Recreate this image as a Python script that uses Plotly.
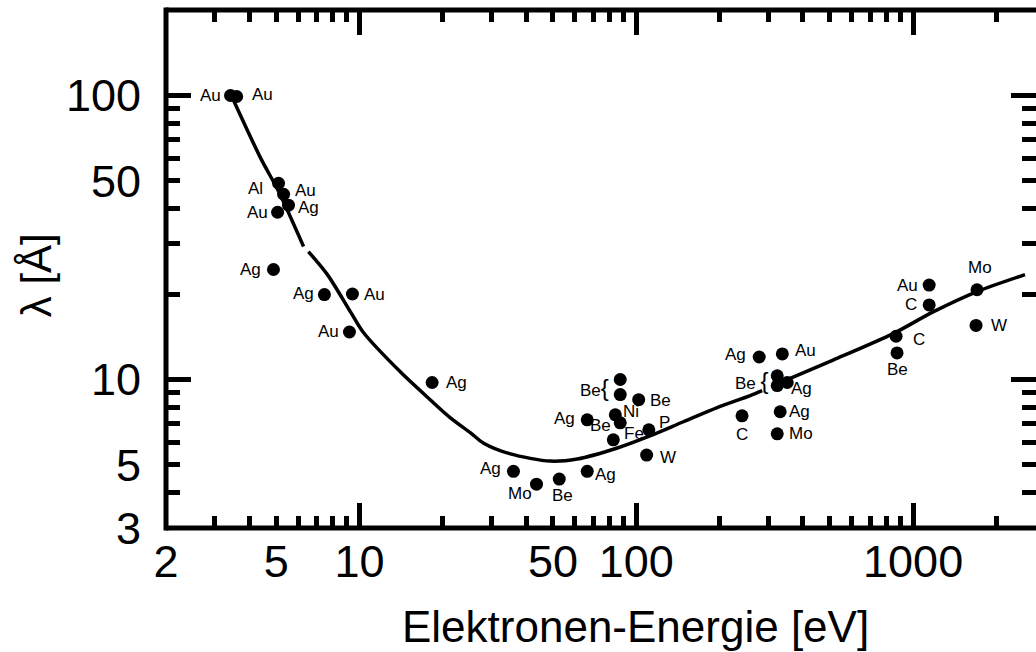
import numpy as np
import plotly.graph_objects as go

# Universal curve of the electron attenuation length (None = break in the drawn line)
curve_energy = [3.51, 4.39, 5.10, 6.28, None, 6.54, 7.66, 9.28, 10.3, 14.1, 18.0, 21.3,
                25.2, 28.0, 35.1, 48.9, 61.2, 85.4, 112, 148, 196, 258, 285, None,
                331, 514, 847, 1181, 1702, 2537]
curve_lambda = [96.0, 60.3, 46.0, 29.4, None, 28.2, 23.4, 17.3, 14.7, 10.6, 8.49, 7.33,
                6.49, 5.98, 5.47, 5.16, 5.25, 5.74, 6.33, 7.10, 7.96, 8.78, 9.14, None,
                9.75, 11.7, 14.5, 17.3, 20.4, 23.4]

# Measured values: element, electron energy [eV], attenuation length [Å]
elements = ["Au", "Au", "Al", "Au", "Ag", "Au", "Ag", "Ag", "Au", "Au", "Ag",
            "Be", "Be", "Be", "Ni", "Be", "Ag", "P", "Fe", "W", "Ag", "Mo", "Be", "Ag",
            "Ag", "Au", "Be", "Be", "Ag", "Ag", "Mo", "C",
            "Au", "C", "C", "Be", "Mo", "W"]
energy = [3.42, 3.60, 5.10, 5.32, 5.54, 5.06, 4.89, 7.47, 9.43, 9.20, 18.3,
          87.5, 87.5, 102, 84.0, 87.5, 66.5, 111, 82.6, 109, 36.0, 43.6, 52.7, 66.5,
          278, 337, 323, 323, 351, 331, 323, 241,
          1143, 1143, 868, 875, 1702, 1688]
lam = [100, 99.2, 49.1, 44.9, 41.1, 38.8, 24.4, 19.9, 20.0, 14.7, 9.76,
       10.0, 8.85, 8.49, 7.51, 7.04, 7.21, 6.65, 6.13, 5.42, 4.75, 4.28, 4.46, 4.75,
       12.0, 12.3, 10.3, 9.52, 9.76, 7.70, 6.44, 7.45,
       21.5, 18.3, 14.2, 12.4, 20.7, 15.5]

# Tick values
x_major = [10, 100, 1000]
x_minor = [3, 4, 5, 6, 7, 8, 9, 20, 30, 40, 50, 60, 70, 80, 90,
           200, 300, 400, 500, 600, 700, 800, 900, 2000]
x_labels = [2, 5, 10, 50, 100, 1000]
y_major = [10, 100]
y_minor = [4, 5, 6, 7, 8, 9, 20, 30, 40, 50, 60, 70, 80, 90, 200]
y_labels = [3, 5, 10, 50, 100]

# Label placement per point: (anchor, x shift px, y shift px); None = shares the brace label
label_place = [("right", -8, 0), ("left", 13, 2), ("right", -14, -5), ("left", 9, 4),
               ("left", 8, -2), ("right", -8, 0), ("right", -10, 0), ("right", -8, 1),
               ("left", 10, 0), ("right", -8, 0), ("left", 12, 0),
               ("right", -9, -8), None, ("left", 9, -1), ("left", 6, 3), ("right", -7, -3),
               ("right", -10, 1), ("left", 8, 7), ("left", 9, 6), ("left", 11, -2),
               ("right", -10, 3), ("right", -3, -9), ("center", 3, -16), ("left", 6, -3),
               ("right", -11, 3), ("left", 11, 3), ("right", -6, -5), None,
               ("left", 2, -6), ("left", 7, 0), ("left", 10, 0), ("center", 0, -19),
               ("right", -9, 0), ("right", -10, 0), ("left", 15, -3), ("center", 0, -17),
               ("center", 3, 22), ("left", 13, 0)]
brace_text = {11: "Be<span style='font-size:24px'>{</span>",
              26: "Be <span style='font-size:24px'>{</span>"}

TICK_FONT = dict(family="Liberation Sans Narrow, Liberation Sans, Arial", size=45, color="black")
LABEL_FONT = dict(family="Liberation Sans, Arial", size=17, color="black")

fig = go.Figure()
fig.add_trace(go.Scatter(x=curve_energy, y=curve_lambda, mode="lines",
                         line=dict(color="black", width=3.5, shape="spline", smoothing=0.8),
                         connectgaps=False, hoverinfo="skip"))
fig.add_trace(go.Scatter(x=energy, y=lam, mode="markers", text=elements,
                         marker=dict(color="black", size=13)))
# invisible trace that carries the label-only axes
fig.add_trace(go.Scatter(x=[10], y=[10], xaxis="x2", yaxis="y2", mode="markers",
                         marker=dict(opacity=0), hoverinfo="skip"))

annotations = []
for i, (el, e, l) in enumerate(zip(elements, energy, lam)):
    place = label_place[i]
    if place is None:
        continue
    anchor, dx, dy = place
    annotations.append(dict(x=np.log10(e), y=np.log10(l), xref="x", yref="y",
                            text=brace_text.get(i, el), showarrow=False,
                            xanchor=anchor, yanchor="middle", xshift=dx, yshift=dy,
                            font=LABEL_FONT))

annotations.append(dict(text="Elektronen-Energie [eV]", x=0.540, y=-0.191,
                        xref="paper", yref="paper", showarrow=False,
                        xanchor="center", yanchor="middle",
                        font=dict(family="Liberation Sans, Arial", size=44, color="black")))
annotations.append(dict(text="λ [Å]", x=-0.1494, y=0.488, xref="paper", yref="paper",
                        showarrow=False, textangle=-90, xanchor="center", yanchor="middle",
                        font=dict(family="Liberation Sans, Arial", size=42, color="black")))

xr = [np.log10(2), 3.444]
yr = [np.log10(3), np.log10(200)]

tick_common = dict(ticks="inside", tickwidth=5, tickcolor="black", showgrid=False,
                   zeroline=False, showline=False, mirror="ticks")

fig.update_layout(
    width=1036, height=652,
    margin=dict(l=166, r=0, t=10, b=124),
    paper_bgcolor="white", plot_bgcolor="white",
    showlegend=False,
    xaxis=dict(type="log", range=xr, tickvals=x_major, ticklen=25, showticklabels=False,
               minor=dict(tickvals=x_minor, ticklen=12, tickwidth=5, ticks="inside",
                          tickcolor="black", showgrid=False),
               **tick_common),
    yaxis=dict(type="log", range=yr, tickvals=y_major, ticklen=25, showticklabels=False,
               minor=dict(tickvals=y_minor, ticklen=14, tickwidth=5, ticks="inside",
                          tickcolor="black", showgrid=False),
               **tick_common),
    xaxis2=dict(type="log", range=xr, overlaying="x", side="bottom", anchor="y2",
                tickvals=x_labels, ticktext=[str(v) for v in x_labels], ticks="",
                showgrid=False, zeroline=False, showline=False, tickfont=TICK_FONT,
                ticklabelstandoff=3),
    yaxis2=dict(type="log", range=yr, overlaying="y", side="left", anchor="x2",
                tickvals=y_labels, ticktext=[str(v) for v in y_labels], ticks="",
                showgrid=False, zeroline=False, showline=False, tickfont=TICK_FONT,
                ticklabelstandoff=24),
    annotations=annotations,
    shapes=[
        dict(type="line", xref="paper", yref="paper", x0=0, x1=0, y0=-0.005, y1=1.005,
             line=dict(color="black", width=5)),
        dict(type="line", xref="paper", yref="paper", x0=0, x1=1, y0=0, y1=0,
             line=dict(color="black", width=5)),
        dict(type="line", xref="paper", yref="paper", x0=0, x1=1, y0=1, y1=1,
             line=dict(color="black", width=5)),
    ],
)

fig.write_html("out.html")
